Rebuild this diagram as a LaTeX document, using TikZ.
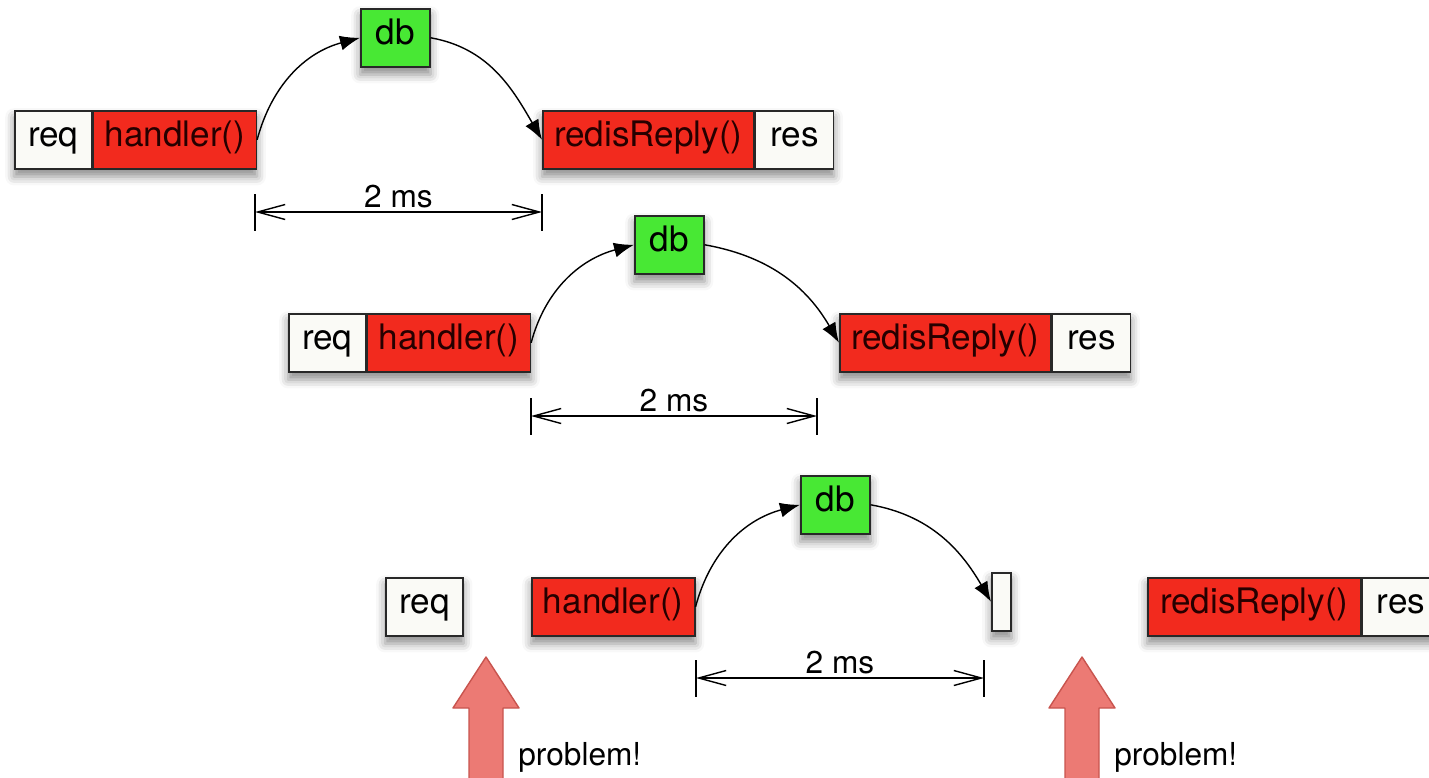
\documentclass[tikz,border=0pt]{standalone}
\usepackage{fontspec}
\setmainfont{TeX Gyre Heros}
\usetikzlibrary{arrows.meta,shadows.blur,backgrounds}

\definecolor{callred}{RGB}{242,42,30}
\definecolor{dbgreen}{RGB}{72,232,52}
\definecolor{msgwhite}{RGB}{250,250,246}
\definecolor{edgegray}{RGB}{40,40,40}
\definecolor{alertred}{RGB}{236,122,116}
\definecolor{alertedge}{RGB}{200,84,78}

\tikzset{
  stagebox/.style={draw=edgegray, line width=0.9pt, minimum height=1.16cm,
    inner sep=0pt, anchor=north west, text height=0.9em, text depth=0.08em,
    font=\fontsize{20}{24}\selectfont},
  msg/.style={stagebox, fill=msgwhite, minimum width=1.54cm},
  call/.style={stagebox, fill=callred, text=black!85!red},
  dbbox/.style={stagebox, fill=dbgreen, minimum width=1.38cm},
  flow/.style={-{Latex[length=0.4cm,width=0.3cm]}, line width=0.8pt},
  span/.style={{Straight Barb[length=0.55cm,width=0.3cm]}-{Straight Barb[length=0.55cm,width=0.3cm]}, line width=0.8pt},
  dimtick/.style={line width=0.9pt},
  gaplabel/.style={above=1pt, inner sep=1pt, font=\fontsize{18}{22}\selectfont},
  grpshadow/.style={blur shadow={shadow xshift=0pt, shadow yshift=-4pt,
    shadow blur radius=5pt, shadow opacity=45}},
  alert/.style={fill=alertred, draw=alertedge, line width=0.8pt, line join=round},
  note/.style={anchor=west, inner sep=0pt, font=\fontsize{18}{22}\selectfont},
}

\begin{document}
\begin{tikzpicture}[x=0.02cm, y=-0.02cm]
  \useasboundingbox (0,0) rectangle (1429,777);
  \clip (0,0) rectangle (1429,777);

  % first two rounds: request, handler, db hop, reply
  \foreach \r/\x/\y/\dbx/\dby/\rx/\dl/\dr/\dy in
      {1/14/110/360/8/542/255/542/212, 2/288/313/634/215/839/531/817/416} {
    \node[msg] (req\r) at (\x,\y) {req};
    \node[call, minimum width=3.26cm] (handler\r) at (req\r.north east) {handler()};
    \node[dbbox] (db\r) at (\dbx,\dby) {db};
    \node[call, minimum width=4.22cm] (reply\r) at (\rx,\y) {redisReply()};
    \node[msg, minimum width=1.56cm] (res\r) at (reply\r.north east) {res};

    \draw[flow] (handler\r.east) to[out=75, in=195] (db\r.west);
    \draw[flow] (db\r.east) to[out=-10, in=120] (reply\r.west);

    \coordinate (from\r) at (\dl,\dy);
    \coordinate (to\r) at (\dr,\dy);
    \draw[span] (from\r) -- node[gaplabel] (gap\r) {2 ms} (to\r);
    \draw[dimtick] (from\r) ++(0,-18) -- ++(0,37);
    \draw[dimtick] (to\r) ++(0,-18) -- ++(0,37);
  }

  % third round: the reply gets split off
  \node[msg] (req3) at (385,577) {req};
  \node[call, minimum width=3.26cm] (handler3) at (531,577) {handler()};
  \node[dbbox] (db3) at (800,475) {db};
  \node[stagebox, fill=msgwhite, minimum width=0.38cm] (slot3) at (991,572) {};
  \node[call, minimum width=4.26cm] (reply3) at (1147,577) {redisReply()};
  \node[msg] (res3) at (reply3.north east) {res};

  \draw[flow] (handler3.east) to[out=75, in=195] (db3.west);
  \draw[flow] (db3.east) to[out=-10, in=120] (slot3.west);

  \coordinate (from3) at (696,678);
  \coordinate (to3) at (984,678);
  \draw[span] (from3) -- node[gaplabel] (gap3) {2 ms} (to3);
  \draw[dimtick] (from3) ++(0,-18) -- ++(0,37);
  \draw[dimtick] (to3) ++(0,-18) -- ++(0,37);

  % big arrows
  \foreach \n/\ax in {1/486, 2/1082} {
    \draw[alert] (\ax,657) -- (\ax+33,708) -- (\ax+17,708) -- (\ax+17,790)
      -- (\ax-17,790) -- (\ax-17,708) -- (\ax-33,708) -- cycle;
    \node[note] (problem\n) at (\ax+32,757) {problem!};
  }

  % shadows under the boxes
  \begin{scope}[on background layer]
    \foreach \r in {1,2} {
      \path[grpshadow] (req\r.north west) rectangle (handler\r.south east);
      \path[grpshadow] (reply\r.north west) rectangle (res\r.south east);
    }
    \path[grpshadow] (req3.north west) rectangle (req3.south east);
    \path[grpshadow] (handler3.north west) rectangle (handler3.south east);
    \path[grpshadow] (slot3.north west) rectangle (slot3.south east);
    \path[grpshadow] (reply3.north west) rectangle (res3.south east);
    \foreach \r in {1,2,3}
      \path[grpshadow] (db\r.north west) rectangle (db\r.south east);
  \end{scope}
\end{tikzpicture}
\end{document}
